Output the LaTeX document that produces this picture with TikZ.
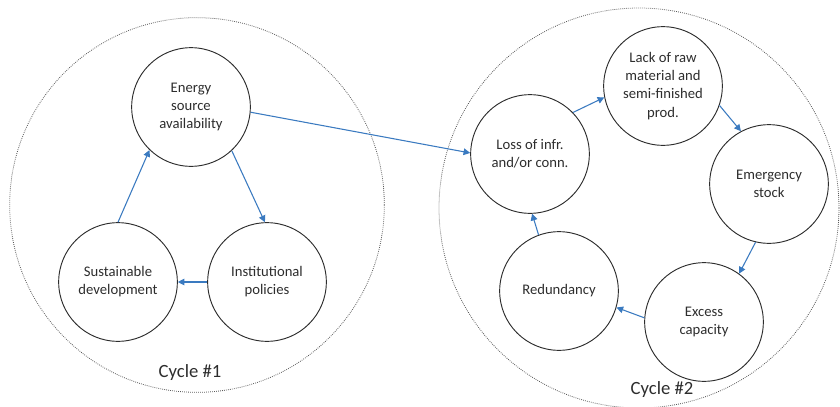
\documentclass[tikz,border=0pt]{standalone}
\usepackage{fontspec}
\setmainfont{Carlito}
\usetikzlibrary{arrows.meta}
\definecolor{arrowblue}{RGB}{58,122,192}
\definecolor{inkgray}{RGB}{45,45,45}
\tikzset{
  stage/.style={circle, draw=inkgray, line width=0.7pt, minimum size=89pt, inner sep=0pt,
    align=center, text=inkgray, font=\fontsize{11}{13.6}\selectfont},
  cyclering/.style={circle, draw=black!65, dash pattern=on 0.6pt off 0.9pt, line width=0.6pt, inner sep=0pt},
  flow/.style={draw=arrowblue, line width=0.8pt, -{Triangle[length=5pt,width=5pt]}},
  cyclelabel/.style={text=inkgray, font=\fontsize{14}{16}\selectfont, inner sep=0pt}
}
\begin{document}
\begin{tikzpicture}[x=0.75pt,y=-0.75pt]
\useasboundingbox (0,0) rectangle (840,407);
\clip (0,0) rectangle (840,407);
\node[cyclering, minimum size=281pt] (ring1) at (197,205) {};
\node[cyclering, minimum size=300pt] (ring2) at (639,208) {};
% cycle 1
\node[stage] (energy) at (191,107) {Energy\\source\\availability};
\node[stage] (sust) at (118,282) {Sustainable\\development};
\node[stage] (inst) at (267,282) {Institutional\\policies};
\node[cyclelabel] (c1) at (190,373) {Cycle \#1};
% cycle 2
\node[stage] (loss) at (530,154) {Loss of infr.\\and/or conn.};
\node[stage] (lack) at (663,86) {Lack of raw\\material and\\semi-finished\\prod.};
\node[stage] (emerg) at (769,184) {Emergency\\stock};
\node[stage] (excess) at (704,322) {Excess\\capacity};
\node[stage] (redund) at (559,291) {Redundancy};
\node[cyclelabel] (c2) at (662,390) {Cycle \#2};
% arrows
\draw[flow] (energy.-5) -- (loss.179);
\draw[flow] (sust.90) -- (energy.226);
\draw[flow] (energy.313) -- (inst.92);
\draw[flow] (inst.180) -- (sust.0);
\draw[flow] (loss.44) -- (lack.191);
\draw[flow] (lack.341) -- (emerg.118);
\draw[flow] (emerg.257) -- (excess.54);
\draw[flow] (excess.176) -- (redund.344);
\draw[flow] (redund.110) -- (loss.272);
\end{tikzpicture}
\end{document}
